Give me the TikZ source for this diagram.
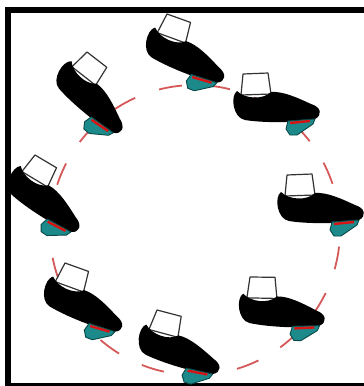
\documentclass[tikz,border=0pt]{standalone}
\usepackage{tikz}
\definecolor{pathred}{RGB}{214,88,88}
\definecolor{soleteal}{RGB}{28,138,138}
\definecolor{soledark}{RGB}{10,72,72}
\definecolor{stepred}{RGB}{215,20,20}
\tikzset{
	sock/.style={fill=white,draw=black!80,line width=1.2pt,line join=round},
	shoe/.style={fill=black},
	sole/.style={fill=soleteal,draw=soledark,line width=0.9pt,line join=round},
	stepline/.style={stepred,line width=2.4pt},
	foot/.pic={
		\draw[sock] (0,0) -- (25,-1) -- (28,20) -- (-2,21) -- cycle;
		\fill[shoe] (-6,17) .. controls (2,25) and (20,26) .. (28,18) .. controls (40,17) and (55,24) .. (68,30) .. controls (78,33) and (80,41) .. (72,45) .. controls (55,49) and (20,49) .. (2,46) .. controls (-10,44) and (-13,22) .. (-6,17) -- cycle;
		\draw[sole] (45,47) -- (72,45) -- (70,50) -- (54,61) -- (47,61) -- (43,55) -- cycle;
		\draw[stepline] (47,49) -- (67,47);
	}
}
\begin{document}
\begin{tikzpicture}[x=1pt,y=-1pt]
		\useasboundingbox (0,0) rectangle (364,386);
		\clip (0,0) rectangle (364,386);
		\fill[white] (0,0) rectangle (364,386);
		\draw[line width=6pt] (8,10) rectangle (372,386);
		\draw[pathred,line width=1.8pt,dash pattern=on 23pt off 25.5pt,dash phase=1.5pt] (195,230) circle (145pt);
		\pic[rotate=-22] at (167,14) {foot};
		\pic at (243,74) {foot};
		\pic at (287,175) {foot};
		\pic[rotate=-3] at (250,277) {foot};
		\pic[rotate=-17] at (157,310) {foot};
		\pic[rotate=-22] at (65,263) {foot};
		\pic[rotate=-33] at (35,155) {foot};
		\pic[rotate=-40] at (87,52) {foot};
\end{tikzpicture}
\end{document}
